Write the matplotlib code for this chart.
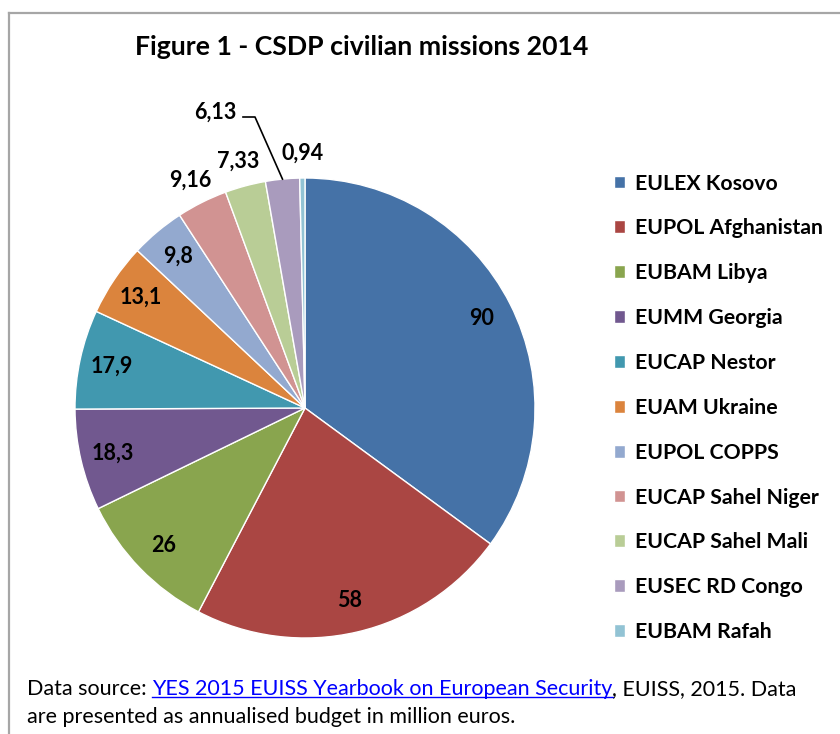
import matplotlib
matplotlib.use("Agg")
import matplotlib.pyplot as plt
import numpy as np
from matplotlib.lines import Line2D

labels = ["EULEX Kosovo", "EUPOL Afghanistan", "EUBAM Libya", "EUMM Georgia",
          "EUCAP Nestor", "EUAM Ukraine", "EUPOL COPPS", "EUCAP Sahel Niger",
          "EUCAP Sahel Mali", "EUSEC RD Congo", "EUBAM Rafah"]
values = [90, 58, 26, 18.3, 17.9, 13.1, 9.8, 9.16, 7.33, 6.13, 0.94]
value_text = ["90", "58", "26", "18,3", "17,9", "13,1", "9,8", "9,16", "7,33", "6,13", "0,94"]
colors = ["#4572A7", "#AA4643", "#89A54E", "#71588F", "#4198AF", "#DB843D",
          "#93A9CF", "#D19392", "#B9CD96", "#A99BBD", "#92C3D4"]
title = "Figure 1 - CSDP civilian missions 2014"

FONT = "Lato"
W, H = 840, 734
fig = plt.figure(figsize=(W / 100, H / 100), dpi=100)
fig.patch.set_facecolor("white")

# border
fig.add_artist(Line2D([9 / W, 1.0], [1 - 13 / H, 1 - 13 / H], color="#A6A6A6", lw=1.6))
fig.add_artist(Line2D([9 / W, 9 / W], [0, 1 - 13 / H], color="#A6A6A6", lw=1.6))

cx, cy, r = 305, 408, 230
ax = fig.add_axes([(cx - r) / W, (H - cy - r) / H, 2 * r / W, 2 * r / H])
wedges, _ = ax.pie(values, colors=colors, startangle=90, counterclock=False,
                   radius=1.0, wedgeprops=dict(edgecolor="white", linewidth=1.0))
ax.set_xlim(-1, 1)
ax.set_ylim(-1, 1)
ax.set_aspect("equal")
ax.axis("off")

LFS = 15.5
for i, w in enumerate(wedges):
    mid = np.deg2rad((w.theta1 + w.theta2) / 2)
    if i < 7:
        rr = 0.86
        ax.text(rr * np.cos(mid), rr * np.sin(mid), value_text[i], ha="center", va="center",
                fontsize=LFS, fontweight="bold", family=FONT, color="black")
    elif value_text[i] == "6,13":
        tx, ty = -90 / r, 296 / r
        ax.text(tx, ty, value_text[i], ha="center", va="center",
                fontsize=LFS, fontweight="bold", family=FONT, color="black")
        px, py = np.cos(mid), np.sin(mid)
        ax.plot([-62 / r, -50 / r, px], [291 / r, 291 / r, py], color="black", lw=1.2,
                clip_on=False)
    else:
        rr = 1.11
        ax.text(rr * np.cos(mid), rr * np.sin(mid), value_text[i], ha="center", va="center",
                fontsize=LFS, fontweight="bold", family=FONT, color="black")

fig.text(362 / W, 1 - 47 / H, title, ha="center", va="center", fontsize=19.2,
         fontweight="bold", family=FONT)

leg = fig.legend(wedges, labels, loc="upper left", bbox_to_anchor=(605 / W, 1 - 165 / H),
                 frameon=False, prop=dict(family=FONT, weight="bold", size=15.3),
                 handlelength=0.55, handleheight=0.55, handletextpad=0.45,
                 labelspacing=1.17, borderaxespad=0)

# bottom note
fs = 15.5
y1 = 1 - 689 / H
y2 = 1 - 717 / H
fig.canvas.draw()
rend = fig.canvas.get_renderer()
t1 = fig.text(27 / W, y1, "Data source: ", ha="left", va="center", fontsize=fs, family=FONT)
bb = t1.get_window_extent(rend)
t2 = fig.text(bb.x1 / W, y1, "YES 2015 EUISS Yearbook on European Security", ha="left",
              va="center", fontsize=fs, family=FONT, color="#0000FF")
bb2 = t2.get_window_extent(rend)
fig.add_artist(Line2D([bb2.x0 / W, bb2.x1 / W], [(bb2.y0 + 2) / H, (bb2.y0 + 2) / H],
                      color="#0000FF", lw=1.0))
fig.text(bb2.x1 / W, y1, ", EUISS, 2015. Data", ha="left", va="center", fontsize=fs,
         family=FONT)
fig.text(27 / W, y2, "are presented as annualised budget in million euros.", ha="left",
         va="center", fontsize=fs, family=FONT)

fig.savefig("out.png", dpi=100)
